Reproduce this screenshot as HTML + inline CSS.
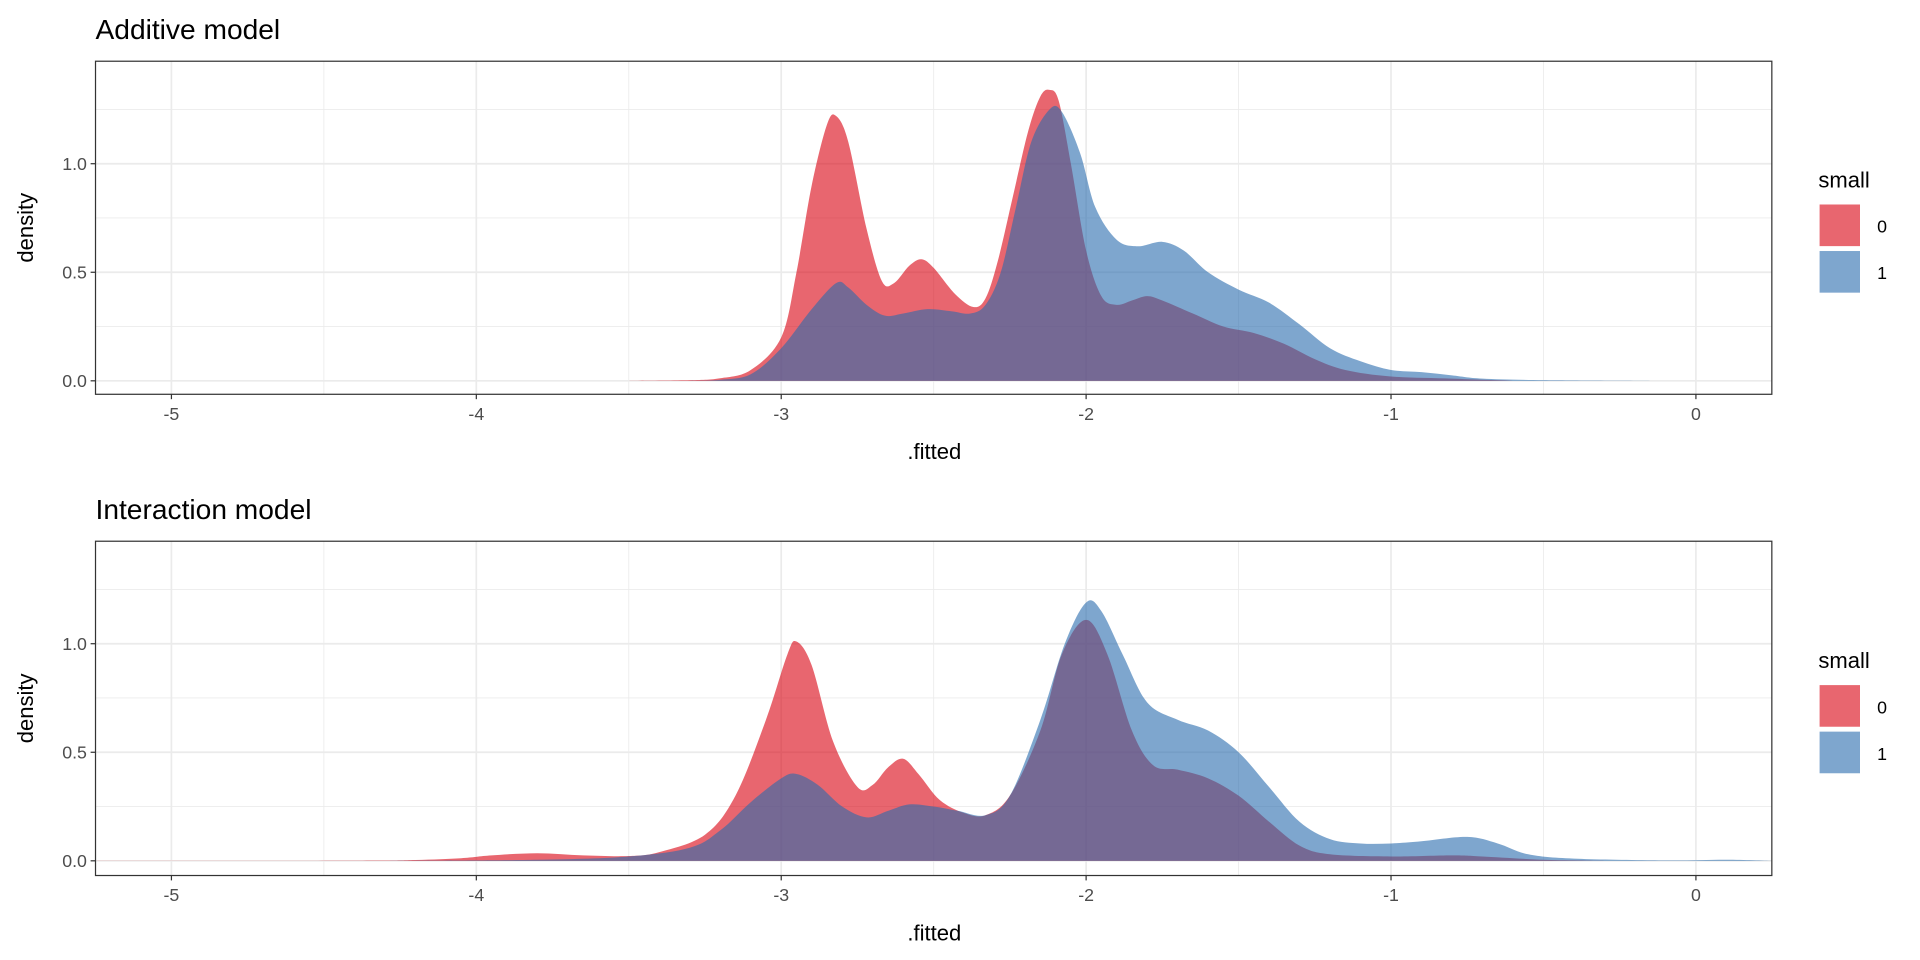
<!DOCTYPE html>
<html><head><meta charset="utf-8"><style>
html,body{margin:0;padding:0;background:#fff;}
svg{display:block;}
text{font-family:"Liberation Sans",Arial,sans-serif;}
</style></head><body>
<svg id="s" width="1920" height="960" viewBox="0 0 1568 784" xmlns="http://www.w3.org/2000/svg">
<rect width="1568" height="784" fill="#fff"/>
<g id="g"></g>
</svg>
<script>
const g=document.getElementById('g');
let out='';
const X=v=>1385+249*v;
const RED='#D9000F',BLUE='#286BAE',OP=0.6;
function panel(top,bottom,y0,title,red,blue){
  const Y=v=>y0-177.3*v;
  const L=78,R=1447;
  out+=`<text x="78" y="${top-18}" font-size="23" fill="#000">${title}</text>`;
  for(let v=-5.5;v<=0.5;v+=1){const x=X(v);if(x>L&&x<R)out+=`<line x1="${x}" x2="${x}" y1="${top}" y2="${bottom}" stroke="#ebebeb" stroke-width="0.7"/>`;}
  for(const v of [0.25,0.75,1.25])out+=`<line x1="${L}" x2="${R}" y1="${Y(v)}" y2="${Y(v)}" stroke="#ebebeb" stroke-width="0.7"/>`;
  for(let v=-5;v<=0;v++)out+=`<line x1="${X(v)}" x2="${X(v)}" y1="${top}" y2="${bottom}" stroke="#ebebeb" stroke-width="1.4"/>`;
  for(const v of [0,0.5,1])out+=`<line x1="${L}" x2="${R}" y1="${Y(v)}" y2="${Y(v)}" stroke="#ebebeb" stroke-width="1.4"/>`;
  function path(pts,col){
    const p=pts.map(a=>[X(a[0]),Y(a[1])]);
    let d=`M${p[0][0]},${y0}L${p[0][0]},${p[0][1]}`;
    for(let i=0;i<p.length-1;i++){
      const p0=p[Math.max(0,i-1)],p1=p[i],p2=p[i+1],p3=p[Math.min(p.length-1,i+2)];
      let c1y=p1[1]+(p2[1]-p0[1])/6,c2y=p2[1]-(p3[1]-p1[1])/6;
      c1y=Math.min(c1y,y0);c2y=Math.min(c2y,y0);
      d+=`C${p1[0]+(p2[0]-p0[0])/6},${c1y} ${p2[0]-(p3[0]-p1[0])/6},${c2y} ${p2[0]},${p2[1]}`;
    }
    d+=`L${p[p.length-1][0]},${y0}Z`;
    out+=`<path d="${d}" fill="${col}" fill-opacity="${OP}"/>`;
  }
  path(red,RED);path(blue,BLUE);
  out+=`<rect x="${L}" y="${top}" width="${R-L}" height="${bottom-top}" fill="none" stroke="#333" stroke-width="1"/>`;
  for(let v=-5;v<=0;v++){out+=`<line x1="${X(v)}" x2="${X(v)}" y1="${bottom}" y2="${bottom+4}" stroke="#333"/><text x="${X(v)}" y="${bottom+21}" font-size="14.5" fill="#4d4d4d" text-anchor="middle">${v}</text>`;}
  for(const v of [0,0.5,1]){out+=`<line x1="${L-4}" x2="${L}" y1="${Y(v)}" y2="${Y(v)}" stroke="#333"/><text x="${L-7}" y="${Y(v)+5}" font-size="14.5" fill="#4d4d4d" text-anchor="end">${v.toFixed(1)}</text>`;}
  out+=`<text x="763" y="${bottom+53}" font-size="18" text-anchor="middle">.fitted</text>`;
  const my=(top+bottom)/2;
  out+=`<text transform="translate(27,${my}) rotate(-90)" font-size="18" text-anchor="middle">density</text>`;
  const ly=my-33;
  out+=`<text x="1485" y="${ly}" font-size="18">small</text>`;
  out+=`<rect x="1486" y="${ly+14}" width="33" height="34" fill="${RED}" fill-opacity="${OP}"/><rect x="1486" y="${ly+52}" width="33" height="34" fill="${BLUE}" fill-opacity="${OP}"/>`;
  out+=`<text x="1533" y="${ly+37}" font-size="14.5">0</text><text x="1533" y="${ly+75}" font-size="14.5">1</text>`;
}
const r1=[[-3.5,0],[-3.3,0.003],[-3.2,0.012],[-3.1,0.05],[-3.0,0.2],[-2.95,0.5],[-2.9,0.9],[-2.85,1.18],[-2.82,1.22],[-2.78,1.1],[-2.72,0.7],[-2.67,0.46],[-2.63,0.45],[-2.58,0.53],[-2.54,0.56],[-2.5,0.52],[-2.43,0.4],[-2.37,0.34],[-2.33,0.38],[-2.29,0.55],[-2.24,0.85],[-2.19,1.15],[-2.15,1.31],[-2.12,1.34],[-2.09,1.29],[-2.05,1.0],[-2.0,0.6],[-1.95,0.39],[-1.9,0.35],[-1.85,0.37],[-1.8,0.39],[-1.75,0.37],[-1.65,0.31],[-1.55,0.25],[-1.45,0.22],[-1.35,0.17],[-1.25,0.1],[-1.15,0.05],[-1.0,0.02],[-0.8,0.01],[-0.6,0.0]];
const b1=[[-3.3,0],[-3.2,0.005],[-3.1,0.03],[-3.0,0.15],[-2.9,0.33],[-2.82,0.45],[-2.78,0.43],[-2.72,0.35],[-2.66,0.3],[-2.6,0.31],[-2.52,0.33],[-2.44,0.32],[-2.38,0.31],[-2.33,0.35],[-2.28,0.5],[-2.23,0.8],[-2.18,1.1],[-2.12,1.25],[-2.08,1.24],[-2.02,1.05],[-1.97,0.8],[-1.9,0.65],[-1.83,0.62],[-1.75,0.64],[-1.68,0.6],[-1.6,0.5],[-1.5,0.42],[-1.4,0.36],[-1.3,0.26],[-1.2,0.15],[-1.1,0.09],[-1.0,0.05],[-0.9,0.04],[-0.8,0.025],[-0.7,0.01],[-0.5,0.003],[-0.15,0]];
const r2=[[-5.25,0],[-4.4,0.001],[-4.2,0.004],[-4.05,0.012],[-3.95,0.025],[-3.8,0.035],[-3.65,0.025],[-3.5,0.022],[-3.4,0.04],[-3.25,0.12],[-3.15,0.3],[-3.05,0.65],[-2.98,0.95],[-2.95,1.01],[-2.9,0.9],[-2.83,0.55],[-2.75,0.34],[-2.7,0.35],[-2.65,0.43],[-2.6,0.47],[-2.55,0.4],[-2.48,0.28],[-2.4,0.22],[-2.33,0.21],[-2.25,0.3],[-2.15,0.6],[-2.08,0.95],[-2.0,1.11],[-1.93,0.95],[-1.85,0.6],[-1.78,0.44],[-1.7,0.42],[-1.6,0.38],[-1.5,0.3],[-1.4,0.18],[-1.3,0.07],[-1.2,0.03],[-1.0,0.02],[-0.8,0.025],[-0.7,0.02],[-0.5,0.005],[-0.3,0]];
const b2=[[-4.3,0],[-3.8,0.005],[-3.5,0.02],[-3.3,0.06],[-3.2,0.14],[-3.1,0.27],[-3.0,0.38],[-2.95,0.4],[-2.88,0.35],[-2.8,0.25],[-2.72,0.2],[-2.65,0.23],[-2.58,0.26],[-2.5,0.25],[-2.42,0.23],[-2.33,0.21],[-2.25,0.3],[-2.15,0.65],[-2.07,1.0],[-2.0,1.19],[-1.95,1.15],[-1.88,0.95],[-1.8,0.73],[-1.7,0.65],[-1.6,0.6],[-1.5,0.5],[-1.4,0.34],[-1.3,0.18],[-1.2,0.1],[-1.1,0.08],[-1.0,0.08],[-0.9,0.09],[-0.75,0.11],[-0.65,0.08],[-0.55,0.03],[-0.4,0.01],[-0.1,0.002],[0.1,0.005],[0.25,0]];
panel(50,322,311,'Additive model',r1,b1);
panel(442,715,703,'Interaction model',r2,b2);
g.innerHTML=out;
</script>
</body></html>
